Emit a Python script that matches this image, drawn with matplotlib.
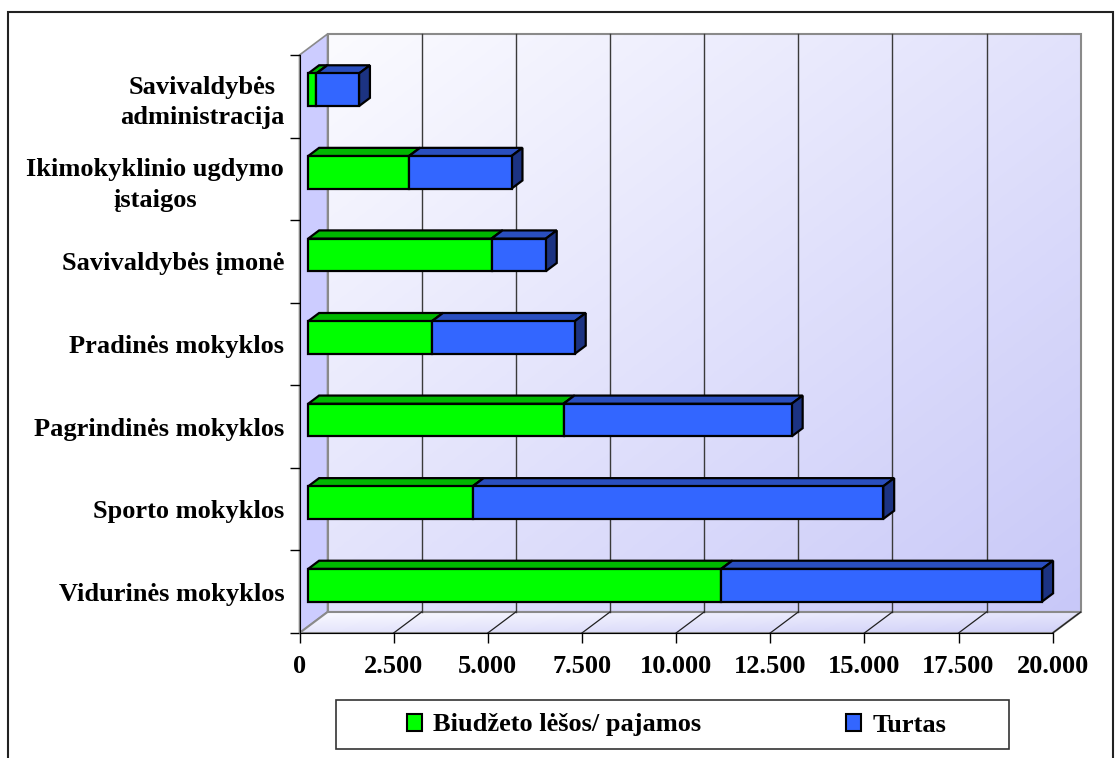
import numpy as np
import matplotlib
matplotlib.use("Agg")
import matplotlib.pyplot as plt
from matplotlib.patches import Polygon, Patch, Rectangle
from matplotlib.colors import LinearSegmentedColormap

# categories listed bottom to top
categories = ["Vidurinės mokyklos", "Sporto mokyklos", "Pagrindinės mokyklos",
              "Pradinės mokyklos", "Savivaldybės įmonė",
              "Ikimokyklinio ugdymo\nįstaigos", "Savivaldybės\nadministracija"]
biudzetas = [10970, 4370, 6780, 3290, 4870, 2680, 220]
turtas = [8520, 10900, 6060, 3790, 1440, 2720, 1130]
xticks = [0, 2500, 5000, 7500, 10000, 12500, 15000, 17500, 20000]
series_names = ["Biudžeto lėšos/ pajamos", "Turtas"]

# face colours: front, top, side
green = ("#00ff00", "#00b800", "#00a000")
blue = ("#3366ff", "#2a4fbf", "#1c3382")

plt.rcParams['font.family'] = ['Liberation Serif', 'DejaVu Serif']
plt.rcParams['font.weight'] = 'bold'
FS = 19

fig = plt.figure(figsize=(11.19, 7.58), dpi=100)
W, H = 1119, 758
ax = fig.add_axes([299.5 / W, (H - 633) / H, 753.2 / W, 578 / H])

xmax = 20000
n = len(categories)
ymin, ymax = -0.5, n - 0.5
# depth of the box in data units (28 px right, 21 px up)
DX = 28 * xmax / 753.2
DY = 21 * n / 578.0
t0, t1 = 0.31, 0.70   # bar front / back depth fraction
bh = 0.395

# back wall with a soft gradient
grad = np.add.outer(np.linspace(0, 1, 200), np.linspace(0, 1, 300)) / 2
wall_cmap = LinearSegmentedColormap.from_list("wall", ["#fbfbff", "#c8c8f8"])
im = ax.imshow(grad, extent=[DX, xmax + DX, ymin + DY, ymax + DY], origin="upper",
               aspect="auto", cmap=wall_cmap, zorder=0, interpolation="bicubic")
im.set_clip_on(False)
ax.add_patch(Rectangle((DX, ymin + DY), xmax, n, fill=False, ec="#8a8a8a",
                       lw=1.5, zorder=1, clip_on=False))

# left wall
ax.add_patch(Polygon([(0, ymin), (DX, ymin + DY), (DX, ymax + DY), (0, ymax)],
                     closed=True, fc="#ccccff", ec="#8a8a8a", lw=1.2, zorder=1,
                     clip_on=False))

# floor
floor = Polygon([(0, ymin), (xmax, ymin), (xmax + DX, ymin + DY), (DX, ymin + DY)],
                closed=True, fc="none", ec="#8a8a8a", lw=1.5, zorder=2, clip_on=False)
ax.add_patch(floor)
fgrad = np.add.outer(np.linspace(0, 1, 20), np.linspace(0, 1, 300)) / 2
fim = ax.imshow(fgrad, extent=[0, xmax + DX, ymin, ymin + DY], origin="upper",
                aspect="auto",
                cmap=LinearSegmentedColormap.from_list("floor", ["#fafaff", "#d0d0f8"]),
                zorder=1, interpolation="bicubic")
fim.set_clip_box(fig.bbox)
fim.set_clip_path(floor)

# grid lines on the back wall and the floor
for x in xticks[1:-1]:
    ax.plot([x + DX, x + DX], [ymin + DY, ymax + DY], color="#3a3a3a", lw=1,
            zorder=2, clip_on=False)
for x in xticks[1:]:
    ax.plot([x, x + DX], [ymin, ymin + DY], color="#202020", lw=0.9,
            zorder=2, clip_on=False)


def box(x0, x1, yc, cols):
    ox0, oy0 = t0 * DX, t0 * DY
    ox1, oy1 = t1 * DX, t1 * DY
    yb, yt = yc - bh / 2 + oy0, yc + bh / 2 + oy0
    ddx, ddy = ox1 - ox0, oy1 - oy0
    a, b = x0 + ox0, x1 + ox0
    top = [(a, yt), (b, yt), (b + ddx, yt + ddy), (a + ddx, yt + ddy)]
    side = [(b, yb), (b + ddx, yb + ddy), (b + ddx, yt + ddy), (b, yt)]
    front = [(a, yb), (b, yb), (b, yt), (a, yt)]
    for pts, c in ((top, cols[1]), (side, cols[2]), (front, cols[0])):
        ax.add_patch(Polygon(pts, closed=True, fc=c, ec="black", lw=1.6,
                             joinstyle="miter", zorder=5, clip_on=False))


for i in range(n):
    box(0, biudzetas[i], i, green)
    box(biudzetas[i], biudzetas[i] + turtas[i], i, blue)

ax.set_xlim(0, xmax)
ax.set_ylim(ymin, ymax)
ax.patch.set_visible(False)
for s in ("top", "right"):
    ax.spines[s].set_visible(False)
ax.spines["left"].set_zorder(6)
ax.spines["bottom"].set_zorder(6)

ax.set_xticks(xticks)
ax.set_xticklabels([f"{v:,}".replace(",", ".") for v in xticks])
ax.tick_params(axis="x", length=7, width=1, pad=9, labelsize=FS)
ax.set_yticks(range(n))
ax.set_yticklabels(categories, linespacing=1.4)
ax.set_yticks(np.arange(-0.5, n, 1), minor=True)
ax.tick_params(axis="y", which="major", length=0, pad=11, labelsize=FS)
ax.tick_params(axis="y", which="minor", length=7, width=1)
for lbl in ax.get_yticklabels():
    lbl.set_horizontalalignment("right")
    lbl.set_multialignment("center")

# legend box and entries
fig.add_artist(Rectangle((336 / W, 1 - 749 / H), 673 / W, 49 / H,
                         transform=fig.transFigure, fc="white", ec="#333333", lw=1.2))
handles = [Patch(fc=green[0], ec="black", lw=1.5), Patch(fc=blue[0], ec="black", lw=1.5)]
fig.legend(handles, series_names, loc="center left", ncol=2, frameon=False,
           bbox_to_anchor=(407 / W, 1 - 725 / H), fontsize=FS,
           handlelength=0.57, handleheight=0.6, handletextpad=0.42,
           columnspacing=5.5, borderpad=0, borderaxespad=0)

# chart frame
fig.add_artist(Rectangle((8 / W, -0.01), 1105 / W, 1 - 12 / H + 0.01,
                         transform=fig.transFigure, fill=False, ec="#222222", lw=1.5))

fig.savefig("out.png", dpi=100)
